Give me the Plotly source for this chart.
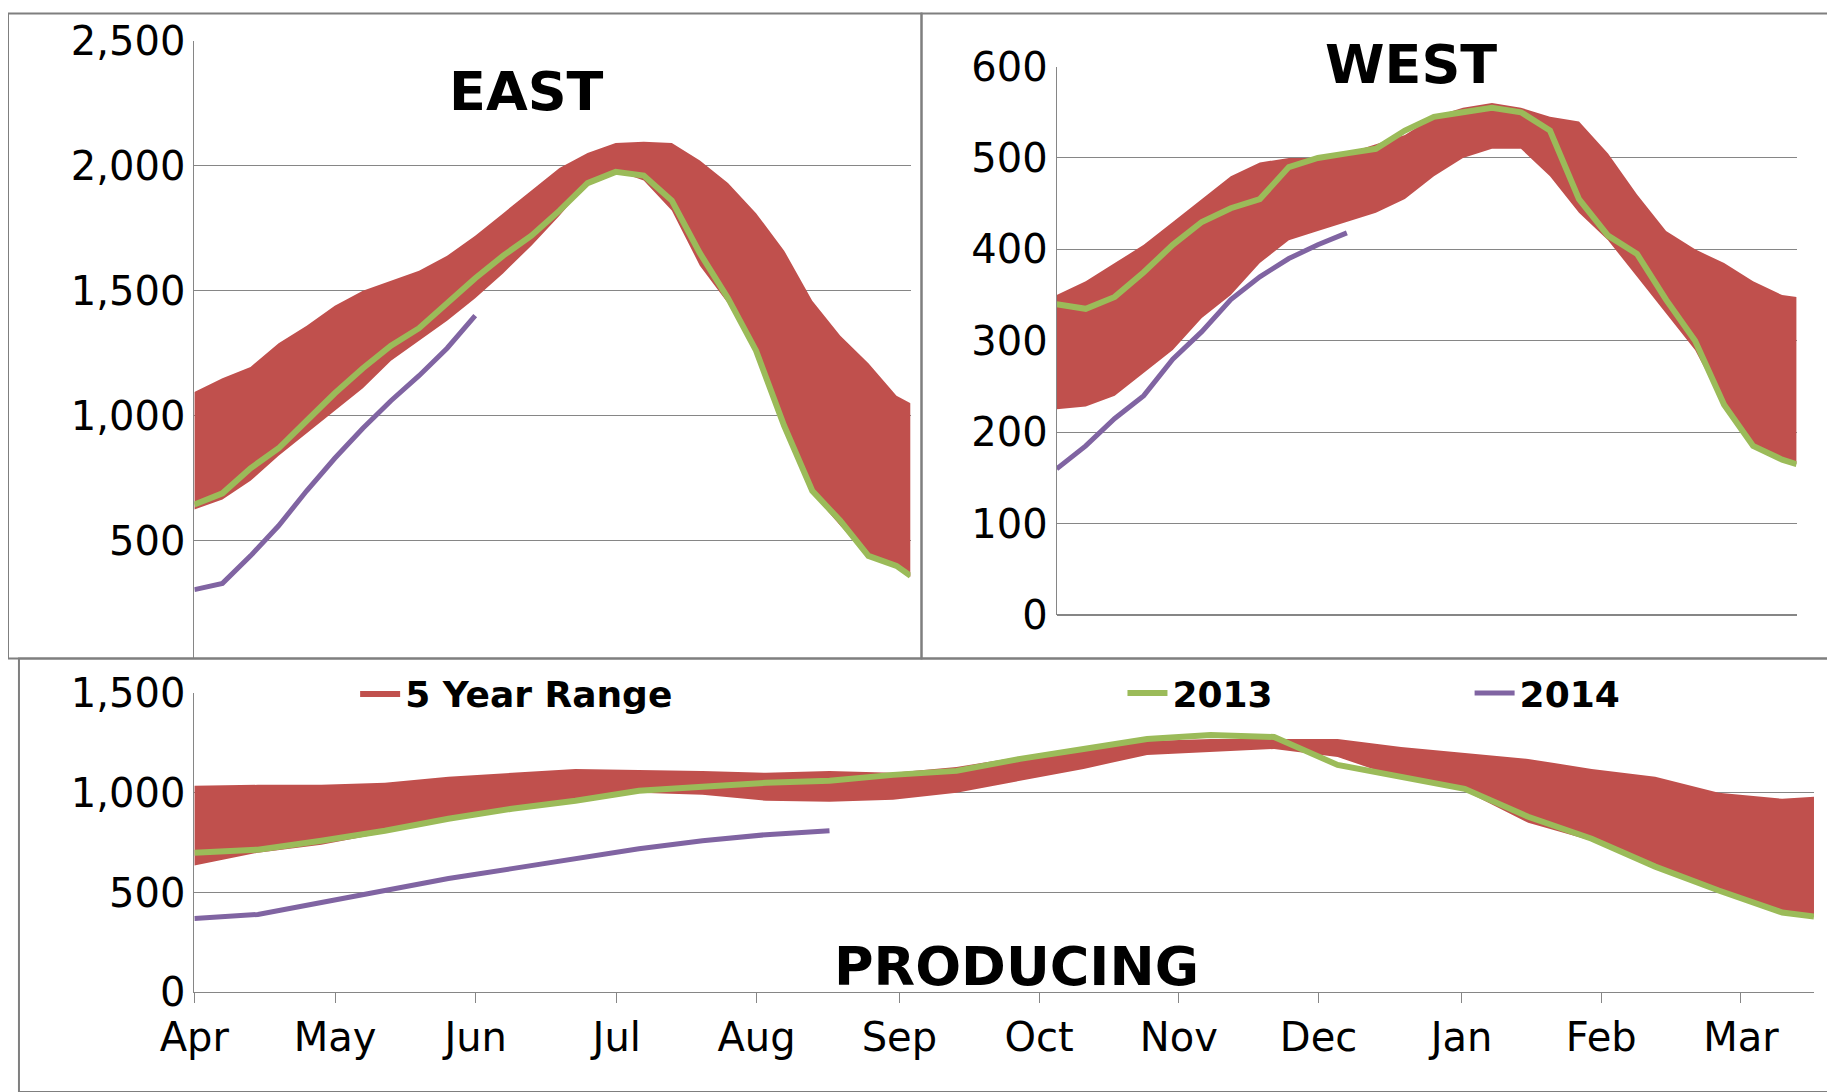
import plotly.graph_objects as go

# weeks from start of April, sampled every 2 weeks (last point = week 51)
weeks = [0, 2, 4, 6, 8, 10, 12, 14, 16, 18, 20, 22, 24, 26, 28, 30, 32, 34, 36, 38, 40, 42, 44, 46, 48, 50, 51]
weeks_2014 = weeks[:11]

east_max = [1095, 1150, 1195, 1290, 1360, 1440, 1500, 1540, 1580, 1640, 1720, 1810, 1900, 1990, 2050, 2090,
            2095, 2090, 2020, 1930, 1810, 1660, 1460, 1320, 1210, 1080, 1050]
east_min = [625, 665, 740, 840, 930, 1020, 1110, 1220, 1300, 1380, 1470, 1570, 1680, 1800, 1930, 1980,
            1940, 1820, 1600, 1450, 1250, 950, 690, 560, 440, 390, 355]
east_2013 = [645, 690, 790, 870, 980, 1090, 1190, 1280, 1350, 1450, 1550, 1640, 1720, 1820, 1930, 1975,
             1960, 1860, 1650, 1470, 1260, 960, 700, 580, 440, 400, 360]
east_2014 = [305, 330, 440, 560, 700, 830, 950, 1060, 1160, 1270, 1400]

west_max = [350, 365, 385, 405, 430, 455, 480, 495, 500, 500, 505, 515, 525, 545, 555, 560,
            555, 545, 540, 505, 460, 420, 400, 385, 365, 350, 348]
west_min = [225, 228, 240, 265, 290, 325, 350, 385, 410, 420, 430, 440, 455, 480, 500, 510,
            510, 480, 440, 410, 370, 330, 290, 230, 185, 170, 165]
west_2013 = [340, 335, 348, 375, 405, 430, 445, 455, 490, 500, 505, 510, 530, 545, 550, 555,
             550, 530, 455, 415, 395, 345, 300, 230, 185, 170, 165]
west_2014 = [160, 185, 215, 240, 280, 310, 345, 370, 390, 405, 418]

prod_max = [1035, 1040, 1040, 1050, 1080, 1100, 1120, 1115, 1110, 1100, 1110, 1100, 1130, 1180, 1220, 1260,
            1270, 1270, 1270, 1230, 1200, 1170, 1120, 1080, 1000, 970, 980]
prod_min = [635, 700, 740, 800, 860, 910, 950, 1000, 990, 960, 955, 965, 1000, 1060, 1120, 1190,
            1205, 1220, 1180, 1070, 1010, 850, 760, 630, 520, 400, 380]
prod_2013 = [700, 715, 760, 810, 870, 920, 960, 1010, 1030, 1050, 1060, 1090, 1110, 1170, 1220, 1270,
             1290, 1280, 1140, 1080, 1020, 880, 770, 630, 510, 400, 380]
prod_2014 = [370, 390, 450, 510, 570, 620, 670, 720, 760, 790, 810]

months = ['Apr', 'May', 'Jun', 'Jul', 'Aug', 'Sep', 'Oct', 'Nov', 'Dec', 'Jan', 'Feb', 'Mar']
month_ticks = [0, 4.43, 8.86, 13.3, 17.7, 22.2, 26.6, 31.0, 35.4, 39.9, 44.3, 48.7]

RED = '#C0504D'
GREEN = '#9BBB59'
PURPLE = '#8064A2'
GRID = '#868686'
FONT = 'DejaVu Sans'

fig = go.Figure()

panels = [
    ('x', 'y', east_min, east_max, east_2013, east_2014),
    ('x2', 'y2', west_min, west_max, west_2013, west_2014),
    ('x3', 'y3', prod_min, prod_max, prod_2013, prod_2014),
]
for xa, ya, lo, hi, g13, p14 in panels:
    show = xa == 'x3'
    fig.add_trace(go.Scatter(x=weeks, y=lo, mode='lines', line=dict(width=0, color=RED),
                             xaxis=xa, yaxis=ya, showlegend=False, hoverinfo='skip'))
    fig.add_trace(go.Scatter(x=weeks, y=hi, mode='lines', line=dict(width=0, color=RED),
                             fill='tonexty', fillcolor=RED, name='<b>5 Year Range</b>',
                             xaxis=xa, yaxis=ya, showlegend=show, legend='legend'))
    fig.add_trace(go.Scatter(x=weeks, y=g13, mode='lines', line=dict(width=6, color=GREEN),
                             name='<b>2013</b>', xaxis=xa, yaxis=ya, showlegend=show, legend='legend2'))
    fig.add_trace(go.Scatter(x=weeks_2014, y=p14, mode='lines', line=dict(width=5, color=PURPLE),
                             name='<b>2014</b>', xaxis=xa, yaxis=ya, showlegend=show, legend='legend3'))

tickfont = dict(family=FONT, size=40, color='black')
legfont = dict(family=FONT, size=36, color='black')

fig.update_layout(
    width=1827, height=1084,
    plot_bgcolor='white', paper_bgcolor='white',
    margin=dict(l=0, r=0, t=0, b=0, autoexpand=False),
    font=dict(family=FONT, color='black'),
    xaxis=dict(domain=[0.102, 0.494], range=[0, 51], showticklabels=False, showgrid=False,
               zeroline=False, ticks=''),
    yaxis=dict(domain=[0.40, 0.97], range=[30, 2500], tickvals=[500, 1000, 1500, 2000, 2500],
               tickformat=',', tickfont=tickfont, showgrid=True, gridcolor=GRID, zeroline=False,
               showline=True, linecolor=GRID, anchor='x'),
    xaxis2=dict(domain=[0.574, 0.979], range=[0, 51], showticklabels=False, showgrid=False,
                zeroline=False, ticks='', anchor='y2'),
    yaxis2=dict(domain=[0.44, 0.946], range=[0, 600], dtick=100, tickfont=tickfont, showgrid=True,
                gridcolor=GRID, zeroline=True, zerolinecolor=GRID, showline=True, linecolor=GRID,
                anchor='x2'),
    xaxis3=dict(domain=[0.102, 0.9885], range=[0, 51], tickvals=month_ticks, ticktext=months,
                tickfont=tickfont, ticks='outside', ticklen=10, tickcolor=GRID, showgrid=False,
                zeroline=False, showline=True, linecolor=GRID, anchor='y3'),
    yaxis3=dict(domain=[0.092, 0.368], range=[0, 1500], dtick=500, tickformat=',', tickfont=tickfont,
                showgrid=True, gridcolor=GRID, zeroline=False, showline=True, linecolor=GRID,
                anchor='x3'),
    legend=dict(x=0.19, y=0.368, xanchor='left', yanchor='middle', bgcolor='rgba(0,0,0,0)',
                font=legfont, itemwidth=40),
    legend2=dict(x=0.61, y=0.368, xanchor='left', yanchor='middle', bgcolor='rgba(0,0,0,0)',
                 font=legfont, itemwidth=40),
    legend3=dict(x=0.80, y=0.368, xanchor='left', yanchor='middle', bgcolor='rgba(0,0,0,0)',
                 font=legfont, itemwidth=40),
)

titles = [('<b>EAST</b>', 0.284, 0.923), ('<b>WEST</b>', 0.768, 0.948), ('<b>PRODUCING</b>', 0.552, 0.116)]
for text, x, y in titles:
    fig.add_annotation(text=text, x=x, y=y, xref='paper', yref='paper', showarrow=False,
                       xanchor='center', yanchor='middle',
                       font=dict(family=FONT, size=54, color='black'))

# panel frames
frames = [(0.0, 0.40, 0.5, 0.995), (0.5, 0.40, 0.999, 0.995), (0.006, 0.0, 0.999, 0.40)]
for x0, y0, x1, y1 in frames:
    fig.add_shape(type='rect', xref='paper', yref='paper', x0=x0, y0=y0, x1=x1, y1=y1,
                  line=dict(color='#7F7F7F', width=2))

fig.write_html("out.html")
